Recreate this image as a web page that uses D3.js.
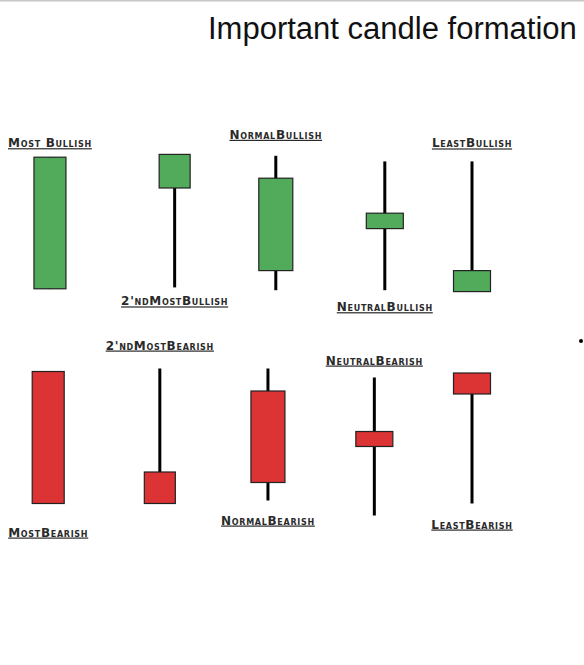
<!DOCTYPE html>
<html>
<head>
<meta charset="utf-8">
<title>Important candle formation</title>
<style>
  body { margin: 0; background: #fff; }
  .label {
    font-family: "DejaVu Sans", sans-serif;
    font-weight: bold;
    font-variant: small-caps;
    font-size: 12px;
    letter-spacing: 0.7px;
    fill: #2a2a2a;
    text-decoration: underline;
  }
  .title {
    font-family: "Liberation Sans", Arial, sans-serif;
    font-size: 31px;
    fill: #111;
  }
</style>
</head>
<body>
<script src="https://cdnjs.cloudflare.com/ajax/libs/d3/7.8.5/d3.min.js"></script>
<script>
// candle data (price units 0-100 per row)
var bullNames = ["Most Bullish", "2'ndMostBullish", "NormalBullish", "NeutralBullish", "LeastBullish"];
var bullSlot  = [0.16, 1.59, 2.75, 4.0, 5.0];
var bullOpen  = [3, 75, 16, 46, 1];
var bullClose = [97, 99, 82, 57, 16];
var bullHigh  = [97, 99, 98, 94, 94];
var bullLow   = [3, 4, 2, 2, 1];

var bearNames = ["MostBearish", "2'ndMostBearish", "NormalBearish", "NeutralBearish", "LeastBearish"];
var bearSlot  = [0.14, 1.42, 2.66, 3.88, 5.0];
var bearOpen  = [97, 30, 84, 57, 96];
var bearClose = [9, 9, 23, 47, 82];
var bearHigh  = [97, 99, 99, 93, 96];
var bearLow   = [9, 9, 11, 1, 9];

// layout only: label above (-) or below (+) the candle, in px
var bullLabelDy = [-10, 18, -17, 21, -14];
var bearLabelDy = [33, -19, 24, -13, 25];
var bodyWidth = [32, 31, 34, 37, 37];

var width = 584, height = 665;

var svg = d3.select("body").append("svg")
    .attr("width", width)
    .attr("height", height);

// thin frame line at the very top
svg.append("line")
    .attr("x1", 0).attr("x2", width)
    .attr("y1", 0.5).attr("y2", 0.5)
    .attr("stroke", "#c8c8c8").attr("stroke-width", 2);

svg.append("text")
    .attr("class", "title")
    .attr("x", 208).attr("y", 38.5)
    .text("Important candle formation");

var x = d3.scaleLinear().domain([0, 5]).range([36, 472]);

function rows(names, slot, open, close, high, low) {
  return names.map(function(n, i) {
    return {name: n, slot: slot[i], open: open[i], close: close[i], high: high[i], low: low[i], i: i};
  });
}

function drawRow(data, y, fill, labelDy) {
  var g = svg.append("g");

  var c = g.selectAll(".candle")
      .data(data)
    .enter().append("g")
      .attr("class", "candle");

  // wicks
  c.append("line")
      .attr("x1", function(d) { return x(d.slot); })
      .attr("x2", function(d) { return x(d.slot); })
      .attr("y1", function(d) { return y(d.high); })
      .attr("y2", function(d) { return y(d.low); })
      .attr("stroke", "#000")
      .attr("stroke-width", 3);

  // bodies
  c.append("rect")
      .attr("x", function(d) { return x(d.slot) - bodyWidth[d.i] / 2; })
      .attr("width", function(d) { return bodyWidth[d.i]; })
      .attr("y", function(d) { return y(Math.max(d.open, d.close)); })
      .attr("height", function(d) { return Math.abs(y(d.open) - y(d.close)); })
      .attr("fill", fill)
      .attr("stroke", "#222")
      .attr("stroke-width", 1.2);

  // labels
  c.append("text")
      .attr("class", "label")
      .attr("text-anchor", "middle")
      .attr("x", function(d) { return x(d.slot); })
      .attr("y", function(d) {
        var dy = labelDy[d.i];
        return dy < 0 ? y(d.high) + dy : y(d.low) + dy;
      })
      .text(function(d) { return d.name; });
}

var yTop = d3.scaleLinear().domain([0, 100]).range([293, 153]);
var yBot = d3.scaleLinear().domain([0, 100]).range([517, 367]);

drawRow(rows(bullNames, bullSlot, bullOpen, bullClose, bullHigh, bullLow), yTop, "#52ab5b", bullLabelDy);
drawRow(rows(bearNames, bearSlot, bearOpen, bearClose, bearHigh, bearLow), yBot, "#dc3434", bearLabelDy);

// stray mark from the source image
svg.append("circle").attr("cx", 581).attr("cy", 341).attr("r", 2).attr("fill", "#000");
</script>
</body>
</html>
